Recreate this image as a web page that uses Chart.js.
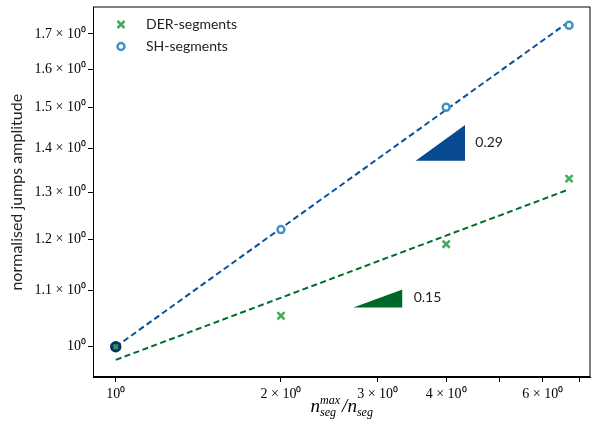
<!DOCTYPE html>
<html>
<head>
<meta charset="utf-8">
<script src="https://cdn.jsdelivr.net/npm/chart.js@4/dist/chart.umd.min.js"></script>
<style>
  html, body { margin: 0; padding: 0; background: #fff; }
  #wrap { width: 598px; height: 426px; }
</style>
</head>
<body>
<div id="wrap"><canvas id="jumps"></canvas></div>
<script>
// measured points (n_seg^max / n_seg vs normalised amplitude)
const ratios = [1, 2, 4, 6.7];
const derValues = [1.0, 1.054, 1.190, 1.330];
const shValues = [1.0, 1.220, 1.501, 1.725];

// fitted power laws, end points
const fitRange = [1, 6.7];
const derFit = [0.978, 1.306];
const shFit = [1.0, 1.736];

// slope triangles
const shTriX = [3.52, 4.33];
const shTriY = [1.371, 1.457];
const derTriX = [2.71, 3.33];
const derTriY = [1.069, 1.102];
const slopeLabels = ['0.29', '0.15'];
const slopeLabelX = [4.52, 3.49];
const slopeLabelY = [1.415, 1.088];

const xTicks = [1, 2, 3, 4, 5, 6, 7];
const xTickLabels = ['10⁰', '2 × 10⁰', '3 × 10⁰', '4 × 10⁰', '', '6 × 10⁰', ''];
const yTicks = [1.0, 1.1, 1.2, 1.3, 1.4, 1.5, 1.6, 1.7];
const yTickLabels = ['10⁰', '1.1 × 10⁰', '1.2 × 10⁰', '1.3 × 10⁰', '1.4 × 10⁰', '1.5 × 10⁰', '1.6 × 10⁰', '1.7 × 10⁰'];

const legendNames = ['DER-segments', 'SH-segments'];

const GREEN = '#41ab5d';
const DKGREEN = '#006d2c';
const BLUE = '#4292c6';
const DKBLUE = '#08519c';

function pts(xs, ys) {
	return xs.map((x, i) => ({ x: x, y: ys[i] }));
}

const extras = {
	id: 'extras',
	afterDraw(chart) {
		const ctx = chart.ctx;
		const a = chart.chartArea;
		const xs = chart.scales.x, ys = chart.scales.y;
		ctx.save();
		// frame
		ctx.strokeStyle = '#000';
		ctx.lineWidth = 1;
		ctx.strokeRect(a.left + 0.5, a.top - 0.5, a.right - a.left - 1, a.bottom - a.top);

		// slope labels
		ctx.fillStyle = '#222';
		ctx.font = '14px Lato';
		ctx.textAlign = 'left';
		ctx.textBaseline = 'middle';
		slopeLabels.forEach((t, i) => {
			ctx.fillText(t, xs.getPixelForValue(slopeLabelX[i]), ys.getPixelForValue(slopeLabelY[i]));
		});

		// legend
		const lx = a.left + 28, ly = a.top + 17, step = 22;
		ctx.lineWidth = 2.5;
		ctx.strokeStyle = GREEN;
		ctx.beginPath();
		ctx.moveTo(lx - 3.5, ly - 3.5); ctx.lineTo(lx + 3.5, ly + 3.5);
		ctx.moveTo(lx - 3.5, ly + 3.5); ctx.lineTo(lx + 3.5, ly - 3.5);
		ctx.stroke();
		ctx.strokeStyle = BLUE;
		ctx.fillStyle = '#fff';
		ctx.beginPath();
		ctx.arc(lx, ly + step, 3.5, 0, Math.PI * 2);
		ctx.fill();
		ctx.stroke();
		ctx.fillStyle = '#222';
		ctx.font = '14px Lato';
		legendNames.forEach((t, i) => ctx.fillText(t, lx + 25, ly + i * step));

		// x axis title: n_seg^max / n_seg
		const big = 'italic 19px "Liberation Serif"';
		const small = 'italic 12px "Liberation Serif"';
		const base = 412;
		ctx.font = big; const wn = ctx.measureText('n').width;
		const wsl = ctx.measureText('/').width;
		ctx.font = small; const wmax = ctx.measureText('max').width;
		const wseg = ctx.measureText('seg').width;
		const total = wn + Math.max(wmax, wseg) + 2 + wsl + wn + wseg;
		let x = (a.left + a.right) / 2 - total / 2;
		ctx.fillStyle = '#000';
		ctx.textBaseline = 'alphabetic';
		ctx.font = big; ctx.fillText('n', x, base); x += wn;
		ctx.font = small; ctx.fillText('max', x, base - 8); ctx.fillText('seg', x, base + 4);
		x += Math.max(wmax, wseg) + 2;
		ctx.font = big; ctx.fillText('/', x, base); x += wsl;
		ctx.fillText('n', x, base); x += wn;
		ctx.font = small; ctx.fillText('seg', x, base + 4);
		ctx.restore();
	}
};

const config = {
	type: 'line',
	data: {
		datasets: [{
			label: legendNames[0],
			data: pts(ratios, derValues),
			showLine: false,
			pointStyle: 'crossRot',
			pointRadius: [3, 5, 5, 5],
			pointBorderWidth: 2.5,
			pointBorderColor: ['#2e9a4e', GREEN, GREEN, GREEN],
			pointBackgroundColor: GREEN
		}, {
			label: legendNames[1],
			data: pts(ratios, shValues),
			showLine: false,
			pointStyle: 'circle',
			pointRadius: [4.5, 3.5, 3.5, 3.5],
			pointBorderWidth: 2.5,
			pointBorderColor: ['#08306b', BLUE, BLUE, BLUE],
			pointBackgroundColor: ['#08306b', '#fff', '#fff', '#fff']
		}, {
			label: 'DER fit',
			data: pts(fitRange, derFit),
			borderColor: DKGREEN,
			borderWidth: 2,
			borderDash: [6, 3.5],
			pointRadius: 0
		}, {
			label: 'SH fit',
			data: pts(fitRange, shFit),
			borderColor: DKBLUE,
			borderWidth: 2,
			borderDash: [6, 3.5],
			pointRadius: 0
		}, {
			label: 'SH slope',
			data: pts(shTriX, shTriY),
			borderWidth: 0,
			pointRadius: 0,
			backgroundColor: '#084a91',
			fill: { value: shTriY[0] }
		}, {
			label: 'DER slope',
			data: pts(derTriX, derTriY),
			borderWidth: 0,
			pointRadius: 0,
			backgroundColor: '#00672a',
			fill: { value: derTriY[0] }
		}]
	},
	options: {
		responsive: true,
		maintainAspectRatio: false,
		animation: false,
		devicePixelRatio: 1,
		layout: { padding: { top: 4, right: 5, left: 0, bottom: 0 } },
		plugins: {
			legend: { display: false },
			tooltip: { enabled: false }
		},
		scales: {
			x: {
				type: 'logarithmic',
				min: 0.909,
				max: 7.33,
				afterBuildTicks: s => { s.ticks = xTicks.map(v => ({ value: v })); },
				afterFit: s => { s.height = 49; },
				ticks: {
					autoSkip: false,
					maxRotation: 0,
					padding: 4,
					color: '#000',
					font: { family: '"Liberation Serif"', size: 14 },
					callback: (v, i) => xTickLabels[i]
				},
				grid: { drawOnChartArea: false, tickLength: 5, color: '#000' },
				border: { color: '#000' }
			},
			y: {
				type: 'logarithmic',
				min: 0.951,
				max: 1.778,
				afterBuildTicks: s => { s.ticks = yTicks.map(v => ({ value: v })); },
				afterFit: s => { s.width = 93; },
				ticks: {
					autoSkip: false,
					padding: 2,
					color: '#000',
					font: { family: '"Liberation Serif"', size: 14, lineHeight: 0.1 },
					callback: (v, i) => yTickLabels[i]
				},
				grid: { drawOnChartArea: false, tickLength: 5, color: '#000' },
				border: { color: '#000' },
				title: {
					display: true,
					text: 'normalised jumps amplitude',
					color: '#222',
					font: { family: 'Lato', size: 16 },
					padding: { top: 7, bottom: 0 }
				}
			}
		}
	},
	plugins: [extras]
};

new Chart(document.getElementById('jumps').getContext('2d'), config);
</script>
</body>
</html>
